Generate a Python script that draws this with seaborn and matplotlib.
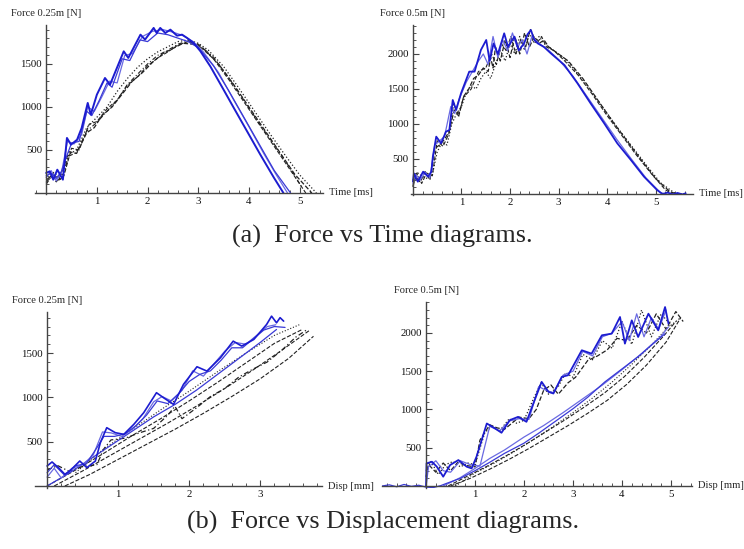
import matplotlib
matplotlib.use("Agg")
import matplotlib.pyplot as plt
from matplotlib.ticker import MultipleLocator
import seaborn as sns
import numpy as np

sns.set_style("white")
plt.rcParams['font.family'] = ['Liberation Serif', 'DejaVu Serif']

# ---------------- Panel (a) left: Force 0.25m vs Time ----------------
a1_blue1_t = [0.0, 0.07, 0.14, 0.22, 0.33, 0.41, 0.49, 0.61, 0.70, 0.82, 0.88, 1.0, 1.16, 1.26, 1.53, 1.62, 1.86, 1.95, 2.12, 2.18, 2.25, 2.35, 2.45, 2.58, 2.68, 2.78, 2.91, 3.04, 3.24, 3.5, 3.7, 3.96, 4.22, 4.49, 4.68]
a1_blue1_f = [233, 252, 155, 271, 155, 640, 562, 620, 756, 1047, 911, 1143, 1337, 1260, 1647, 1570, 1841, 1783, 1919, 1860, 1919, 1860, 1899, 1829, 1841, 1802, 1744, 1650, 1470, 1200, 990, 720, 450, 180, 0]
a1_blue2_t = [0.0, 0.1, 0.2, 0.3, 0.4, 0.5, 0.65, 0.8, 0.9, 1.05, 1.2, 1.3, 1.5, 1.65, 1.85, 2.0, 2.2, 2.4, 2.6, 2.8, 3.0, 3.3, 3.6, 3.9, 4.2, 4.5, 4.82]
a1_blue2_f = [200, 230, 170, 250, 420, 580, 600, 950, 900, 1080, 1280, 1230, 1560, 1540, 1780, 1760, 1860, 1840, 1800, 1760, 1690, 1480, 1190, 880, 570, 260, 0]
a1_blue3_t = [0.0, 0.1, 0.2, 0.3, 0.42, 0.55, 0.7, 0.82, 0.95, 1.1, 1.25, 1.4, 1.55, 1.7, 1.9, 2.1, 2.3, 2.5, 2.7, 2.9, 3.1, 3.4, 3.7, 4.0, 4.3, 4.55, 4.76]
a1_blue3_f = [180, 260, 140, 230, 600, 570, 680, 1000, 950, 1120, 1300, 1280, 1600, 1620, 1820, 1880, 1900, 1870, 1830, 1760, 1640, 1400, 1080, 770, 450, 200, 0]
a1_dash1_t = [0.0, 0.1, 0.2, 0.3, 0.45, 0.6, 0.8, 0.95, 1.1, 1.3, 1.5, 1.7, 1.9, 2.1, 2.3, 2.5, 2.7, 2.9, 3.1, 3.4, 3.7, 4.0, 4.3, 4.6, 4.9, 5.24]
a1_dash1_f = [150, 200, 130, 220, 480, 460, 700, 760, 900, 1000, 1150, 1300, 1400, 1520, 1620, 1680, 1740, 1730, 1680, 1500, 1260, 1000, 740, 480, 220, 0]
a1_dash2_t = [0.0, 0.12, 0.25, 0.35, 0.5, 0.65, 0.85, 1.0, 1.2, 1.4, 1.6, 1.8, 2.0, 2.2, 2.4, 2.6, 2.8, 3.0, 3.3, 3.6, 3.9, 4.2, 4.5, 4.8, 5.12]
a1_dash2_f = [120, 220, 150, 200, 520, 500, 800, 830, 980, 1080, 1250, 1350, 1480, 1570, 1640, 1720, 1760, 1720, 1560, 1320, 1060, 800, 540, 280, 0]
a1_dot1_t = [0.0, 0.15, 0.3, 0.45, 0.6, 0.8, 1.0, 1.2, 1.4, 1.6, 1.8, 2.0, 2.2, 2.4, 2.6, 2.8, 3.0, 3.2, 3.5, 3.8, 4.1, 4.4, 4.7, 5.0, 5.33]
a1_dot1_f = [130, 210, 160, 450, 500, 760, 880, 1000, 1180, 1330, 1460, 1560, 1640, 1700, 1760, 1780, 1740, 1660, 1470, 1220, 960, 700, 450, 210, 0]
a1_dashdot_t = [0.0, 0.15, 0.3, 0.45, 0.6, 0.8, 1.0, 1.2, 1.4, 1.6, 1.8, 2.0, 2.2, 2.4, 2.6, 2.8, 3.0, 3.3, 3.6, 3.9, 4.2, 4.5, 4.8, 5.05]
a1_dashdot_f = [100, 240, 150, 430, 470, 720, 820, 950, 1080, 1260, 1380, 1500, 1600, 1660, 1730, 1770, 1730, 1580, 1340, 1080, 810, 560, 300, 60]

# ---------------- Panel (a) right: Force 0.5m vs Time ----------------
a2_blue1_t = [0.0, 0.02, 0.10, 0.21, 0.31, 0.38, 0.41, 0.48, 0.58, 0.68, 0.75, 0.82, 0.89, 0.99, 1.16, 1.27, 1.40, 1.51, 1.58, 1.66, 1.75, 1.88, 1.96, 2.09, 2.18, 2.29, 2.36, 2.43, 2.50, 2.57, 2.70, 2.84, 3.12, 3.39, 3.66, 3.94, 4.21, 4.49, 4.76, 5.03, 5.14, 5.25, 5.35, 5.45, 5.55, 5.62]
a2_blue1_f = [180, 295, 176, 319, 248, 319, 533, 819, 724, 890, 914, 1343, 1200, 1438, 1748, 1748, 2057, 2200, 1900, 2150, 2000, 2295, 2100, 2248, 2050, 2152, 2280, 2343, 2200, 2152, 2100, 2010, 1843, 1581, 1295, 1010, 724, 486, 248, 57, 0, 20, -5, 15, -5, 10]
a2_blue2_t = [0.0, 0.05, 0.15, 0.25, 0.35, 0.45, 0.55, 0.65, 0.78, 0.86, 0.95, 1.1, 1.25, 1.35, 1.45, 1.55, 1.65, 1.75, 1.85, 1.95, 2.05, 2.15, 2.25, 2.35, 2.45, 2.6, 2.8, 3.0, 3.3, 3.6, 3.9, 4.2, 4.5, 4.8, 5.1, 5.2]
a2_blue2_f = [150, 280, 200, 310, 230, 700, 760, 820, 1250, 1150, 1350, 1600, 1780, 1900, 2000, 1850, 2250, 1950, 2200, 2050, 2300, 2100, 2200, 2000, 2250, 2150, 2050, 1920, 1680, 1380, 1080, 780, 500, 230, 20, 0]
a2_dash1_t = [0.0, 0.05, 0.15, 0.25, 0.35, 0.45, 0.55, 0.65, 0.75, 0.85, 0.95, 1.05, 1.15, 1.25, 1.35, 1.45, 1.55, 1.6, 1.65, 1.7, 1.8, 1.9, 2.0, 2.1, 2.2, 2.3, 2.4, 2.5, 2.6, 2.7, 2.8, 3.0, 3.2, 3.5, 3.8, 4.1, 4.4, 4.7, 5.0, 5.3, 5.45]
a2_dash1_f = [100, 250, 170, 320, 200, 650, 700, 780, 900, 1200, 1150, 1400, 1500, 1650, 1700, 1800, 1750, 1950, 1800, 2100, 1900, 2200, 1950, 2250, 2000, 2300, 2100, 2250, 2150, 2200, 2100, 2000, 1900, 1650, 1350, 1050, 770, 490, 220, 30, 0]
a2_dot1_t = [0.0, 0.1, 0.2, 0.3, 0.4, 0.5, 0.6, 0.7, 0.8, 0.9, 1.0, 1.1, 1.2, 1.3, 1.4, 1.5, 1.6, 1.7, 1.8, 1.9, 2.0, 2.1, 2.2, 2.3, 2.4, 2.5, 2.6, 2.7, 2.8, 2.9, 3.1, 3.3, 3.6, 3.9, 4.2, 4.5, 4.8, 5.1, 5.4, 5.6]
a2_dot1_f = [120, 300, 250, 220, 280, 600, 740, 700, 1000, 1150, 1250, 1450, 1550, 1500, 1650, 1750, 1650, 1850, 2050, 1900, 2150, 2000, 2250, 2050, 2300, 2150, 2250, 2150, 2100, 2050, 1950, 1800, 1540, 1250, 960, 690, 420, 160, 10, 0]
a2_dash2_t = [0.0, 0.08, 0.18, 0.28, 0.4, 0.5, 0.62, 0.74, 0.84, 0.94, 1.04, 1.2, 1.35, 1.5, 1.62, 1.72, 1.82, 1.92, 2.02, 2.12, 2.22, 2.32, 2.42, 2.55, 2.65, 2.75, 2.9, 3.1, 3.4, 3.7, 4.0, 4.3, 4.6, 4.9, 5.2, 5.35]
a2_dash2_f = [200, 300, 150, 300, 260, 760, 680, 860, 1300, 1100, 1380, 1500, 1750, 1800, 2000, 1850, 2150, 2050, 2250, 2000, 2200, 2100, 2350, 2150, 2250, 2100, 2050, 1920, 1700, 1420, 1120, 840, 560, 300, 60, 0]

# ---------------- Panel (b) left: Force 0.25m vs Disp ----------------
b1_blue1_d = [0.0, 0.07, 0.16, 0.25, 0.32, 0.46, 0.56, 0.68, 0.75, 0.84, 0.96, 1.08, 1.22, 1.36, 1.54, 1.64, 1.78, 1.92, 2.11, 2.25, 2.44, 2.62, 2.74, 2.91, 3.09, 3.16, 3.23, 3.28, 3.33]
b1_blue1_f = [226, 271, 207, 132, 169, 282, 207, 282, 489, 658, 602, 583, 695, 827, 1053, 996, 921, 1147, 1346, 1297, 1447, 1635, 1579, 1654, 1823, 1917, 1842, 1900, 1861]
b1_blue2_d = [0.0, 0.1, 0.25, 0.4, 0.55, 0.7, 0.8, 0.95, 1.1, 1.25, 1.4, 1.55, 1.7, 1.85, 2.0, 2.15, 2.3, 2.45, 2.6, 2.75, 2.9, 3.05, 3.2, 3.35]
b1_blue2_f = [150, 240, 120, 230, 250, 430, 560, 560, 590, 680, 800, 960, 930, 1040, 1180, 1260, 1300, 1420, 1560, 1560, 1660, 1760, 1800, 1790]
b1_blue3_d = [0.0, 0.1, 0.2, 0.35, 0.5, 0.65, 0.78, 0.9, 1.05, 1.2, 1.35, 1.5, 1.62, 1.75, 1.9, 2.05, 2.2, 2.35, 2.5, 2.65, 2.8, 2.95, 3.1, 3.22]
b1_blue3_f = [100, 200, 90, 200, 240, 350, 610, 600, 560, 640, 760, 950, 1010, 960, 1080, 1300, 1240, 1380, 1520, 1620, 1600, 1700, 1800, 1820]
b1_blue4_d = [0.0, 0.3, 0.6, 0.9, 1.2, 1.5, 1.8, 2.1, 2.4, 2.7, 3.0, 3.23]
b1_blue4_f = [0, 140, 300, 460, 620, 780, 920, 1080, 1260, 1440, 1620, 1767]
b1_dash1_d = [0.25, 0.6, 1.0, 1.4, 1.8, 2.2, 2.6, 3.0, 3.4, 3.75]
b1_dash1_f = [0, 130, 300, 470, 640, 820, 1010, 1210, 1440, 1690]
b1_dash2_d = [0.1, 0.5, 0.9, 1.3, 1.7, 2.1, 2.5, 2.9, 3.3, 3.7]
b1_dash2_f = [0, 170, 350, 530, 710, 900, 1100, 1310, 1530, 1760]
b1_dash3_d = [0.0, 0.4, 0.8, 1.2, 1.6, 2.0, 2.4, 2.8, 3.2, 3.6]
b1_dash3_f = [0, 180, 370, 570, 760, 960, 1170, 1390, 1610, 1770]
b1_dot1_d = [0.0, 0.15, 0.3, 0.5, 0.7, 0.8, 0.9, 1.1, 1.3, 1.5, 1.7, 1.8, 1.9, 2.1, 2.3, 2.5, 2.7, 2.9, 3.1, 3.3, 3.5, 3.65]
b1_dot1_f = [180, 230, 170, 220, 240, 420, 520, 540, 600, 650, 800, 900, 760, 880, 1010, 1100, 1230, 1320, 1400, 1530, 1680, 1760]
b1_dot2_d = [0.4, 0.8, 1.2, 1.6, 2.0, 2.4, 2.8, 3.2, 3.55]
b1_dot2_f = [150, 420, 640, 860, 1070, 1290, 1500, 1700, 1820]

# ---------------- Panel (b) right: Force 0.5m vs Disp ----------------
b2_blue1_d = [0.0, 0.01, 0.12, 0.22, 0.35, 0.49, 0.66, 0.83, 0.93, 1.03, 1.24, 1.41, 1.54, 1.71, 1.88, 2.05, 2.19, 2.36, 2.50, 2.60, 2.77, 2.90, 3.18, 3.38, 3.59, 3.79, 3.96, 4.06, 4.20, 4.33, 4.54, 4.74, 4.88, 4.95]
b2_blue1_f = [0, 296, 317, 252, 122, 274, 339, 252, 230, 383, 817, 752, 696, 861, 904, 839, 1078, 1361, 1230, 1209, 1426, 1448, 1774, 1730, 1970, 1991, 2209, 1861, 2165, 1948, 2252, 2035, 2339, 2122]
b2_blue2_d = [0.0, 0.05, 0.2, 0.35, 0.5, 0.7, 0.9, 1.1, 1.3, 1.5, 1.7, 1.9, 2.1, 2.3, 2.45, 2.6, 2.8, 3.0, 3.2, 3.4, 3.6, 3.8, 4.0, 4.15, 4.3, 4.45, 4.6, 4.75, 4.9]
b2_blue2_f = [0, 250, 330, 200, 180, 330, 280, 260, 780, 720, 850, 880, 870, 1300, 1250, 1220, 1450, 1500, 1760, 1700, 1950, 2000, 2150, 1900, 2250, 1950, 2200, 2050, 2300]
b2_blue3_d = [-0.9, -0.75, -0.6, -0.45, -0.3, -0.15, 0.0, 0.15, 0.3, 0.4, 0.7, 1.0, 1.3, 1.6, 2.0, 2.3, 2.65, 3.0, 3.3, 3.65, 4.0, 4.33, 4.6, 4.88]
b2_blue3_f = [0, 15, -10, 20, -5, 10, -15, -20, 5, 30, 100, 200, 310, 426, 560, 690, 850, 1010, 1160, 1360, 1530, 1690, 1840, 1990]
b2_blue4_d = [0.35, 0.7, 1.0, 1.3, 1.6, 2.0, 2.4, 2.8, 3.2, 3.6, 4.0, 4.4, 4.8, 4.95]
b2_blue4_f = [0, 110, 230, 360, 470, 640, 790, 960, 1140, 1320, 1520, 1730, 1960, 2080]
b2_dash1_d = [0.5, 0.9, 1.3, 1.7, 2.1, 2.5, 2.9, 3.3, 3.7, 4.1, 4.5, 4.9, 5.2]
b2_dash1_f = [0, 100, 220, 350, 490, 640, 790, 950, 1120, 1330, 1580, 1880, 2200]
b2_dash2_d = [0.45, 0.85, 1.25, 1.65, 2.05, 2.45, 2.85, 3.25, 3.65, 4.05, 4.45, 4.85, 5.1]
b2_dash2_f = [0, 130, 260, 400, 550, 710, 870, 1040, 1220, 1430, 1680, 1960, 2150]
b2_dash3_d = [0.0, 0.05, 0.2, 0.35, 0.5, 0.65, 0.8, 1.0, 1.1, 1.3, 1.45, 1.6, 1.75, 1.9, 2.1, 2.25, 2.4, 2.55, 2.7, 2.9, 3.05, 3.3, 3.5, 3.7, 3.9, 4.1, 4.3, 4.5, 4.7, 4.9, 5.1, 5.25]
b2_dash3_f = [120, 280, 180, 300, 200, 310, 270, 250, 600, 800, 760, 740, 820, 900, 880, 1000, 1250, 1320, 1200, 1350, 1420, 1640, 1700, 1780, 1930, 1900, 2100, 2000, 2250, 2050, 2280, 2150]
b2_dot1_d = [0.0, 0.1, 0.25, 0.4, 0.55, 0.7, 0.85, 1.0, 1.2, 1.35, 1.5, 1.7, 1.85, 2.0, 2.2, 2.35, 2.5, 2.7, 2.85, 3.0, 3.2, 3.4, 3.6, 3.8, 4.0, 4.2, 4.4, 4.6, 4.8, 5.0, 5.2]
b2_dot1_f = [200, 320, 150, 280, 320, 250, 300, 280, 700, 780, 720, 880, 820, 860, 1150, 1350, 1200, 1300, 1480, 1420, 1720, 1650, 1900, 1800, 2150, 1850, 2300, 1950, 2250, 2100, 2200]
b2_dot2_d = [0.6, 1.0, 1.4, 1.8, 2.2, 2.6, 3.0, 3.4, 3.8, 4.2, 4.6, 5.0]
b2_dot2_f = [0, 170, 300, 450, 610, 780, 960, 1150, 1360, 1590, 1840, 2120]

BLUE_D = '#1c1cd0'
BLUE_M = '#3a3ad6'
BLUE_L = '#6a6ae2'
BLK = '#222222'

W, H = 744, 549
fig = plt.figure(figsize=(W / 100, H / 100), dpi=100)


def make_ax(px_left, px_right, px_top, px_y0, xlim, ylim, y_per_px):
    px_bottom = px_y0 - ylim[0] / y_per_px
    ax = fig.add_axes([px_left / W, 1 - px_bottom / H, (px_right - px_left) / W, (px_bottom - px_top) / H])
    ax.set_xlim(*xlim)
    ax.set_ylim(*ylim)
    return ax


def style_ax(ax, xminor, yminor, xlabel, ylabel, xticks, yticks):
    for s in ['top', 'right']:
        ax.spines[s].set_visible(False)
    ax.spines['left'].set_position(('data', 0))
    ax.spines['bottom'].set_position(('data', 0))
    for s in ['left', 'bottom']:
        ax.spines[s].set_color('#444444')
        ax.spines[s].set_linewidth(1.0)
    ax.set_xticks(xticks)
    ax.set_yticks(yticks)
    ax.xaxis.set_minor_locator(MultipleLocator(xminor))
    ax.yaxis.set_minor_locator(MultipleLocator(yminor))
    ax.tick_params(which='both', bottom=True, left=True, top=False, right=False)
    ax.tick_params(which='major', direction='in', length=4.5, width=0.8, color='#444444',
                   labelsize=7.8, pad=3, labelcolor='#111111')
    ax.tick_params(which='minor', direction='in', length=2.5, width=0.7, color='#555555')
    ax.set_xlabel('')
    ax.set_ylabel('')
    ax.patch.set_alpha(0)
    x1 = ax.get_xlim()[1]
    y1 = ax.get_ylim()[1]
    ax.annotate(xlabel, xy=(x1, 0), xytext=(4, 0), textcoords='offset points',
                ha='left', va='center', fontsize=7.6, annotation_clip=False)
    ax.annotate(ylabel, xy=(0, y1), xytext=(0, 5), textcoords='offset points',
                ha='center', va='bottom', fontsize=7.6, annotation_clip=False)


def line(ax, x, y, color, ls='-', lw=1.0):
    sns.lineplot(x=x, y=y, ax=ax, color=color, linestyle=ls, linewidth=lw,
                 sort=False, estimator=None, legend=False)


# Panel a-left
ax1 = make_ax(35, 323, 25, 193, (-0.22, 5.46), (-15, 1953), 500 / 43)
line(ax1, a1_dashdot_t, a1_dashdot_f, BLK, (0, (4, 2, 1, 2)), 0.8)
line(ax1, a1_dot1_t, a1_dot1_f, BLK, ':', 0.9)
line(ax1, a1_dash2_t, a1_dash2_f, BLK, '--', 0.8)
line(ax1, a1_dash1_t, a1_dash1_f, BLK, '--', 0.9)
line(ax1, a1_blue3_t, a1_blue3_f, BLUE_L, '-', 0.9)
line(ax1, a1_blue2_t, a1_blue2_f, BLUE_M, '-', 0.9)
line(ax1, a1_blue1_t, a1_blue1_f, BLUE_D, '-', 1.4)
style_ax(ax1, 0.2, 100, 'Time [ms]', 'Force 0.25m [N]', [1, 2, 3, 4, 5], [500, 1000, 1500])

# Panel a-right
ax2 = make_ax(411, 693, 25, 194, (-0.04, 5.77), (-15, 2414), 500 / 35)
line(ax2, a2_dot1_t, a2_dot1_f, BLK, ':', 0.9)
line(ax2, a2_dash2_t, a2_dash2_f, BLK, '--', 0.8)
line(ax2, a2_dash1_t, a2_dash1_f, BLK, '--', 0.9)
line(ax2, a2_blue2_t, a2_blue2_f, BLUE_L, '-', 0.9)
line(ax2, a2_blue1_t, a2_blue1_f, BLUE_D, '-', 1.3)
style_ax(ax2, 0.2, 100, 'Time [ms]', 'Force 0.5m [N]', [1, 2, 3, 4, 5], [500, 1000, 1500, 2000])

# Panel b-left
ax3 = make_ax(35, 322, 312, 486, (-0.17, 3.87), (-20, 1964), 500 / 44.3)
line(ax3, b1_dash1_d, b1_dash1_f, BLK, '--', 0.8)
line(ax3, b1_dash2_d, b1_dash2_f, BLK, '--', 0.8)
line(ax3, b1_dash3_d, b1_dash3_f, BLK, '--', 0.8)
line(ax3, b1_dot2_d, b1_dot2_f, BLK, ':', 0.8)
line(ax3, b1_dot1_d, b1_dot1_f, BLK, (0, (4, 2, 1, 2)), 0.9)
line(ax3, b1_blue4_d, b1_blue4_f, BLUE_M, '-', 0.9)
line(ax3, b1_blue3_d, b1_blue3_f, BLUE_L, '-', 0.9)
line(ax3, b1_blue2_d, b1_blue2_f, BLUE_M, '-', 0.9)
line(ax3, b1_blue1_d, b1_blue1_f, BLUE_D, '-', 1.2)
style_ax(ax3, 0.2, 100, 'Disp [mm]', 'Force 0.25m [N]', [1, 2, 3], [500, 1000, 1500])

# Panel b-right
ax4 = make_ax(382, 692, 302, 486, (-0.9, 5.43), (-20, 2405), 500 / 38.25)
line(ax4, b2_dash1_d, b2_dash1_f, BLK, '--', 0.8)
line(ax4, b2_dash2_d, b2_dash2_f, BLK, '--', 0.8)
line(ax4, b2_dot2_d, b2_dot2_f, BLK, ':', 0.8)
line(ax4, b2_dot1_d, b2_dot1_f, BLK, ':', 0.9)
line(ax4, b2_dash3_d, b2_dash3_f, BLK, '--', 0.9)
line(ax4, b2_blue4_d, b2_blue4_f, BLUE_L, '-', 0.9)
line(ax4, b2_blue3_d, b2_blue3_f, BLUE_M, '-', 0.9)
line(ax4, b2_blue2_d, b2_blue2_f, BLUE_L, '-', 0.9)
line(ax4, b2_blue1_d, b2_blue1_f, BLUE_D, '-', 1.3)
style_ax(ax4, 0.2, 100, 'Disp [mm]', 'Force 0.5m [N]', [1, 2, 3, 4, 5], [500, 1000, 1500, 2000])

fig.text(382 / W, 1 - 236 / H, '(a)  Force vs Time diagrams.', ha='center', va='center', fontsize=18.8)
fig.text(383 / W, 1 - 522 / H, '(b)  Force vs Displacement diagrams.', ha='center', va='center', fontsize=18.8)

fig.savefig('out.png', dpi=100)
